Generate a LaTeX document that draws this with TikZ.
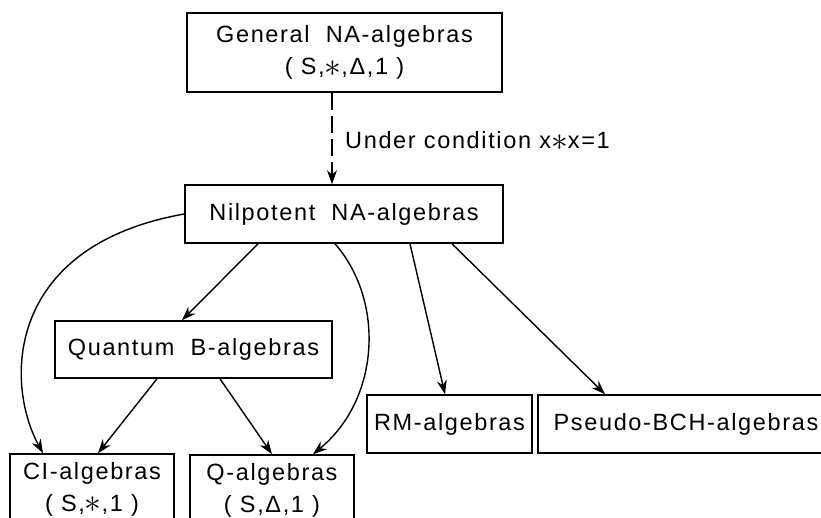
\documentclass[tikz,border=0pt]{standalone}
\usepackage{fontspec}
\usepackage{graphicx}
\setmainfont{Liberation Sans}[LetterSpace=7]
\usetikzlibrary{arrows.meta,calc}
\newcommand{\myast}{\raisebox{-1.6pt}{\scalebox{1.35}{$\ast$}}}
\begin{document}
\begin{tikzpicture}[x=1pt,y=1pt,
  box/.style={draw,line width=1.6pt,inner sep=0pt,align=center,font=\fontsize{23.5}{32}\selectfont},
  lbl/.style={inner sep=0pt,font=\fontsize{23.5}{32}\selectfont},
  conn/.style={line width=1.4pt,-{Stealth[length=14pt,width=10pt]}},
  dconn/.style={conn,dash pattern=on 17pt off 6pt}
  ]
\useasboundingbox (0,0) rectangle (821,-517);
\node[box,minimum width=315pt,minimum height=79pt] (gen) at (344.5,-52.5)
  {General\hspace{8pt} NA-algebras\\( S,\myast,Δ,1 )};
\node[box,minimum width=318pt,minimum height=58pt] (nil) at (344,-214)
  {Nilpotent\hspace{8pt} NA-algebras};
\node[box,minimum width=277pt,minimum height=57pt] (qb) at (193.5,-349.5)
  {Quantum\hspace{8pt} B-algebras};
\node[box,minimum width=164pt,minimum height=70pt] (ci) at (92,-489)
  {CI-algebras\\( S,\myast,1 )};
\node[box,minimum width=164pt,minimum height=70pt] (q) at (272,-490)
  {Q-algebras\\( S,Δ,1 )};
\node[box,minimum width=165pt,minimum height=58pt] (rm) at (449.5,-424)
  {RM-algebras};
\node[box,minimum width=296pt,minimum height=58pt] (ps) at (686,-424)
  {Pseudo-BCH-algebras};
\node[lbl,anchor=west] (cond) at (345,-141) {Under condition x\myast x=1};

\draw[dconn] ($(gen.south)+(-12.5,0)$) -- ($(nil.north)+(-12,0)$);
\draw[conn] (nil.west) .. controls +(-180,-32) and +(-38,69) .. ($(ci.north)+(-49,0)$);
\draw[conn] ($(nil.south)+(-86,0)$) -- ($(qb.north)+(-11.5,0)$);
\draw[conn] ($(nil.south)+(-9,0)$) .. controls +(50,-57) and +(67,55) .. ($(q.north)+(41,0)$);
\draw[conn] ($(qb.south)+(-36.5,0)$) -- ($(ci.north)+(6,0)$);
\draw[conn] ($(qb.south)+(26.5,0)$) -- (q.north);
\draw[conn] ($(nil.south)+(66,0)$) -- ($(rm.north)+(-4.5,0)$);
\draw[conn] ($(nil.south)+(108,0)$) -- ($(ps.north)+(-81,0)$);
\end{tikzpicture}
\end{document}
